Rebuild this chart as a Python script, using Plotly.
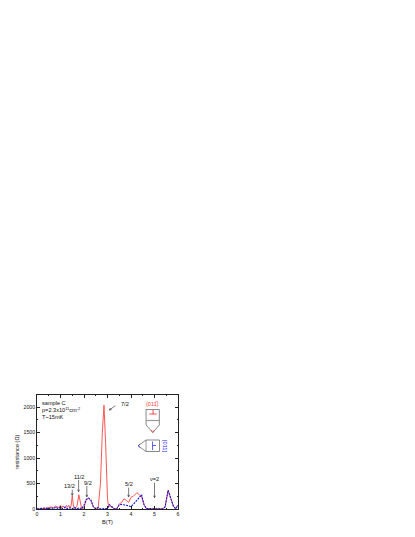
import plotly.graph_objects as go

red_b = [0,0.2,0.4,0.5,0.6,0.7,0.8,0.9,1.0,1.05,1.1,1.2,1.25,1.3,1.35,1.4,1.45,1.5,1.55,1.6,1.65,1.7,1.78,1.85,1.9,2.0,2.05,2.1,2.2,2.3,2.4,2.5,2.55,2.6,2.7,2.78,2.85,2.92,3.0,3.05,3.1,3.2,3.3,3.4,3.5,3.6,3.7,3.8,3.9,4.0,4.1,4.25,4.35,4.45,4.55,4.65,4.8,5.0,5.2,5.35,5.45,5.58,5.7,5.8,5.9,6.0]
red_r = [2,5,15,30,40,25,60,30,70,30,60,25,70,35,75,20,60,260,60,5,25,50,280,120,10,20,120,190,210,160,40,5,3,10,500,1500,2040,1300,200,40,60,30,8,5,100,130,200,170,130,230,250,320,280,240,90,10,3,2,2,3,40,370,200,60,3,80]
blue_b = [0,0.2,0.35,0.5,0.6,0.7,0.8,0.9,1.0,1.1,1.2,1.3,1.4,1.5,1.6,1.7,1.8,1.9,2.0,2.1,2.2,2.3,2.4,2.5,2.6,2.7,2.9,3.0,3.08,3.2,3.3,3.4,3.5,3.6,3.8,4.0,4.1,4.25,4.45,4.55,4.65,4.8,5.0,5.2,5.35,5.45,5.58,5.7,5.8,5.9,6.0]
blue_r = [2,8,20,5,30,5,40,5,35,5,35,5,25,5,30,3,25,3,80,190,215,170,40,3,30,3,2,10,85,30,3,8,85,90,75,45,90,170,280,90,8,3,2,2,3,40,365,200,60,3,75]

x_ticks = [0,1,2,3,4,5,6]
y_ticks = [0,500,1000,1500,2000]
labels = [("13/2",1.4,445),("11/2",1.8,635),("9/2",2.15,520),("7/2",3.73,2055),("5/2",3.9,490),("ν=2",5.0,580),
          ("sample C",0.12,2090),("p=2.3x10<sup>11</sup>cm<sup>-2</sup>",0.12,1960),("T~15mK",0.12,1800)]
arrows = [(1.5,380,1.5,270),(1.77,570,1.77,340),(2.12,450,2.12,240),(3.33,2030,3.08,1945),(3.9,420,3.9,240),(5.0,517,5.0,222)]

OFF = 8  # page margin of the browser
L,R,T,B = 36.7,178,395,509
W,H = 415,537
SX,SY = (R-L)/6,(B-T)/2240
px = lambda x:(x-L)/(R-L)
py = lambda y:(B-y)/(B-T)

fig = go.Figure()
fig.add_trace(go.Scatter(x=red_b,y=red_r,mode="lines",line=dict(color="#f55",width=1),showlegend=False))
fig.add_trace(go.Scatter(x=blue_b,y=blue_r,mode="lines",line=dict(color="#11d",width=1.1,dash="2px,1px"),showlegend=False))

shapes=[]
def seg(x0,y0,x1,y1,c="#555",w=0.7):
    shapes.append(dict(type="line",xref="paper",yref="paper",x0=px(x0),y0=py(y0),x1=px(x1),y1=py(y1),line=dict(color=c,width=w)))
seg(146,409.5,159.3,409.5);seg(146,409.5,146,425);seg(159.3,409.5,159.3,425);seg(146,420.5,159.3,420.5,"#999",1.2)
seg(146,425,152.7,432.5);seg(159.3,425,152.7,432.5)
seg(149.3,414,156.7,414,"#f33",0.9);seg(153,410,153,414,"#f33",0.9);seg(152.7,432.5,151,430,"#f33",0.7);seg(152.7,432.5,154.4,430,"#f33",0.7)
seg(146,440,159.5,440);seg(146,451.5,159.5,451.5);seg(159.5,440,159.5,451.5);seg(146,440,146,451.5,"#999",1.0)
seg(146,440,138,445.8);seg(146,451.5,138,445.8)
seg(152.5,441.5,152.5,450,"#33e",0.8);seg(152.5,445.5,156,445.5,"#33e",0.8);seg(138,445.8,140,444,"#33e",0.7);seg(138,445.8,140,447.5,"#33e",0.7)
for x0,y0,x1,y1 in arrows:
    a0,b0,a1,b1 = L+x0*SX,B-y0*SY,L+x1*SX,B-y1*SY
    seg(a0,b0,a1,b1,"#222",0.6)
    d=((a1-a0)**2+(b1-b0)**2)**.5; ux,uy=(a1-a0)/d,(b1-b0)/d
    seg(a1,b1,a1-2*ux-1*uy,b1-2*uy+1*ux,"#222",0.6); seg(a1,b1,a1-2*ux+1*uy,b1-2*uy-1*ux,"#222",0.6)

ann=[]
for t,x,y in labels:
    ann.append(dict(x=x,y=y,text=t,showarrow=False,xanchor="left" if t[0] in "spT" else "center",yanchor="middle",font=dict(size=5.6,color="#111")))
ann.append(dict(xref="paper",yref="paper",x=px(152.7),y=py(403.5),text="(011\u0305)",showarrow=False,xanchor="center",yanchor="middle",font=dict(size=5.6,color="#f33")))
ann.append(dict(xref="paper",yref="paper",x=px(165),y=py(446),text="[011]",textangle=90,showarrow=False,xanchor="center",yanchor="middle",font=dict(size=5.6,color="#22e")))

axis=dict(showgrid=False,zeroline=False,showline=True,automargin=False,linecolor="#222",linewidth=0.8,mirror="ticks",ticks="inside",ticklen=3,tickwidth=0.6,tickcolor="#222",
          tickfont=dict(size=5.2,color="#111"),minor=dict(ticks="inside",ticklen=1.5,tickwidth=0.5,tickcolor="#222"))
fig.update_layout(width=W,height=H,margin=dict(l=L-OFF,r=W-R+OFF,t=T-OFF,b=H-B+OFF),paper_bgcolor="white",plot_bgcolor="white",
    font=dict(family="Liberation Sans"),shapes=shapes,annotations=ann,
    xaxis=dict(axis,range=[0,6],tickvals=x_ticks,title=dict(text="B(T)",font=dict(size=5.6,color="#111"),standoff=3),minor=dict(axis["minor"],tickvals=[.5,1.5,2.5,3.5,4.5,5.5])),
    yaxis=dict(axis,range=[0,2240],tickvals=y_ticks,title=dict(text="resistance (Ω)",font=dict(size=5.6,color="#111"),standoff=3),minor=dict(axis["minor"],tickvals=[250,750,1250,1750])))
fig.write_html("out.html")
